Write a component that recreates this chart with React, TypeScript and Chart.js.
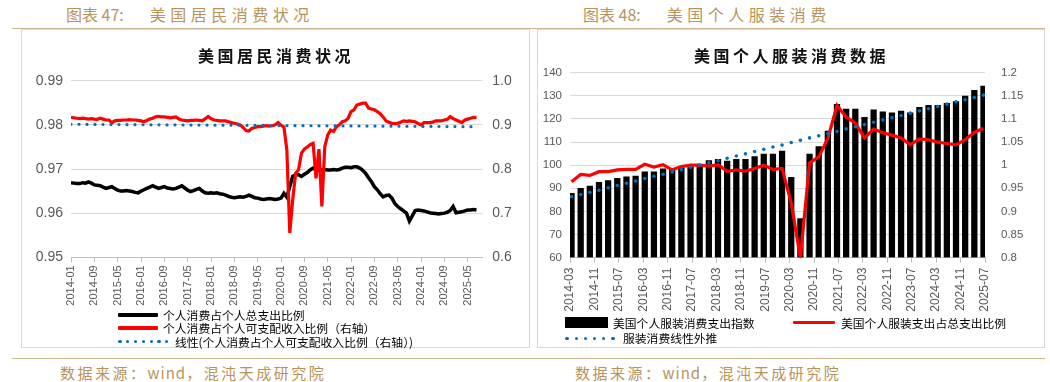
import React, { useEffect, useRef } from 'react';
import { Chart, registerables } from 'chart.js';
Chart.register(...registerables);

// ---------------- Left chart data (monthly, from 2014-01) ----------------
const LEFT_START = '2014-01';
const LEFT_TICK_LABELS = ['2014-01', '2014-09', '2015-05', '2016-01', '2016-09', '2017-05', '2018-01', '2018-09', '2019-05', '2020-01', '2020-09', '2021-05', '2022-01', '2022-09', '2023-05', '2024-01', '2024-09', '2025-05'];

// 个人消费占个人总支出比例 (left axis)
const consumptionToOutlays = [
  0.9669, 0.9668, 0.9667, 0.9667, 0.9669, 0.9668, 0.9671, 0.9668, 0.9664, 0.9663,
  0.9662, 0.9659, 0.9656, 0.9658, 0.9660, 0.9656, 0.9652, 0.9650, 0.9650, 0.9651,
  0.9650, 0.9649, 0.9647, 0.9646, 0.9650, 0.9653, 0.9656, 0.9659, 0.9662, 0.9659,
  0.9656, 0.9658, 0.9660, 0.9657, 0.9656, 0.9655, 0.9656, 0.9659, 0.9662, 0.9657,
  0.9652, 0.9649, 0.9651, 0.9654, 0.9656, 0.9650, 0.9646, 0.9645, 0.9646, 0.9645,
  0.9646, 0.9644, 0.9643, 0.9641, 0.9638, 0.9636, 0.9635, 0.9636, 0.9637, 0.9636,
  0.9638, 0.9641, 0.9638, 0.9635, 0.9634, 0.9632, 0.9631, 0.9632, 0.9633, 0.9632,
  0.9631, 0.9632, 0.9634, 0.9645, 0.9636, 0.9660, 0.9683, 0.9687, 0.9687, 0.9683,
  0.9688, 0.9692, 0.9698, 0.9702, 0.9698, 0.9697, 0.9698, 0.9699, 0.9698, 0.9698,
  0.9699, 0.9698, 0.9699, 0.9702, 0.9704, 0.9704, 0.9703, 0.9705, 0.9705, 0.9702,
  0.9697, 0.9690, 0.9680, 0.9671, 0.9660, 0.9653, 0.9644, 0.9637, 0.9640, 0.9641,
  0.9634, 0.9622, 0.9615, 0.9610, 0.9605, 0.9600, 0.9582, 0.9594, 0.9606, 0.9607,
  0.9606, 0.9605, 0.9603, 0.9601, 0.9600, 0.9599, 0.9598, 0.9599, 0.9600, 0.9602,
  0.9606, 0.9615, 0.9601, 0.9602, 0.9603, 0.9605, 0.9607, 0.9607, 0.9608, 0.9607,
];

// 个人消费占个人可支配收入比例 (right axis)
const consumptionToIncome = [
  0.917, 0.916, 0.915, 0.914, 0.915, 0.914, 0.913, 0.914, 0.913, 0.9125,
  0.915, 0.913, 0.911, 0.911, 0.905, 0.909, 0.910, 0.910, 0.911, 0.911,
  0.912, 0.911, 0.911, 0.910, 0.909, 0.907, 0.910, 0.913, 0.915, 0.918,
  0.919, 0.918, 0.918, 0.917, 0.916, 0.917, 0.918, 0.913, 0.911, 0.910,
  0.909, 0.910, 0.910, 0.911, 0.910, 0.909, 0.914, 0.919, 0.914, 0.911,
  0.910, 0.909, 0.909, 0.909, 0.907, 0.905, 0.9035, 0.902, 0.900, 0.894,
  0.887, 0.886, 0.892, 0.894, 0.896, 0.896, 0.897, 0.898, 0.897, 0.898,
  0.900, 0.905, 0.899, 0.895, 0.843, 0.655, 0.730, 0.790, 0.798, 0.836,
  0.845, 0.850, 0.855, 0.858, 0.779, 0.845, 0.715, 0.851, 0.877, 0.888,
  0.885, 0.896, 0.900, 0.907, 0.909, 0.915, 0.930, 0.934, 0.945, 0.947,
  0.949, 0.949, 0.938, 0.936, 0.934, 0.930, 0.925, 0.918, 0.909, 0.906,
  0.9035, 0.903, 0.9035, 0.906, 0.909, 0.908, 0.909, 0.908, 0.907, 0.903,
  0.900, 0.905, 0.905, 0.905, 0.906, 0.909, 0.909, 0.909, 0.911, 0.9125,
  0.9186, 0.914, 0.911, 0.908, 0.905, 0.911, 0.913, 0.915, 0.917, 0.917,
];

// 线性趋势 (right axis): value at first and last month
const incomeTrendEnds = [0.9012, 0.8958];

// ---------------- Right chart data (quarterly) ----------------
const RIGHT_START = '2014-03';
const RIGHT_TICK_LABELS = ['2014-03', '2014-11', '2015-07', '2016-03', '2016-11', '2017-07', '2018-03', '2018-11', '2019-07', '2020-03', '2020-11', '2021-07', '2022-03', '2022-11', '2023-07', '2024-03', '2024-11', '2025-07'];
const quarters = [
  '2014-03', '2014-06', '2014-09', '2014-12', '2015-03', '2015-06', '2015-09', '2015-12',
  '2016-03', '2016-06', '2016-09', '2016-12', '2017-03', '2017-06', '2017-09', '2017-12',
  '2018-03', '2018-06', '2018-09', '2018-12', '2019-03', '2019-06', '2019-09', '2019-12',
  '2020-03', '2020-06', '2020-09', '2020-12', '2021-03', '2021-06', '2021-09', '2021-12',
  '2022-03', '2022-06', '2022-09', '2022-12', '2023-03', '2023-06', '2023-09', '2023-12',
  '2024-03', '2024-06', '2024-09', '2024-12', '2025-03', '2025-06',
];
// 美国个人服装消费支出指数 (left axis)
const apparelIndex = [
  87.8, 90.0, 91.0, 92.6, 93.3, 94.3, 95.0, 95.3,
  97.1, 97.1, 98.4, 97.9, 98.6, 99.4, 99.8, 102.0,
  102.5, 101.8, 102.5, 102.5, 103.7, 104.8, 104.8, 106.1,
  94.8, 76.9, 104.8, 108.0, 114.8, 126.3, 124.3, 124.3,
  120.7, 123.9, 123.1, 122.7, 123.4, 122.7, 125.0, 125.9,
  125.9, 126.8, 127.5, 129.9, 132.4, 134.2,
];
// 美国个人服装支出占总支出比例 (right axis)
const apparelShare = [
  0.964, 0.980, 0.978, 0.986, 0.986, 0.990, 0.991, 0.991,
  1.002, 0.996, 1.001, 0.990, 0.997, 1.000, 1.000, 0.998,
  1.001, 0.987, 0.990, 0.987, 0.993, 1.000, 0.991, 0.993,
  0.918, 0.800, 1.005, 1.018, 1.058, 1.129, 1.104, 1.091,
  1.059, 1.078, 1.070, 1.065, 1.059, 1.044, 1.057, 1.055,
  1.050, 1.047, 1.044, 1.055, 1.071, 1.080,
];
// 服装消费线性外推 (left axis)
const apparelTrend = [
  86.4, 87.3, 88.3, 89.2, 90.2, 91.2, 92.2, 93.2,
  94.2, 95.2, 96.1, 97.1, 98.1, 99.1, 100.1, 101.0,
  102.0, 103.0, 104.0, 104.9, 105.9, 106.9, 107.9, 108.7,
  109.8, 110.8, 111.8, 112.7, 113.7, 114.6, 115.7, 116.6,
  117.6, 118.6, 119.6, 120.5, 121.5, 122.5, 123.5, 124.4,
  125.4, 126.4, 127.4, 128.3, 129.3, 130.3,
];

// ---------------- styles ----------------
const GOLD = '#b8935a';
const GOLD_LINE = '#cfb48d';
const GRID = '#d9d9d9';
const AXIS = '#bfbfbf';
const TICK_TEXT = '#595959';
const RED = '#ff0000';
const BLUE = '#0070c0';
const CJK = '"Noto Sans CJK SC", "Noto Sans", sans-serif';
const NUM = '"Liberation Sans", Arial, sans-serif';

function monthsBetween(from: string, to: string) {
  const [fy, fm] = from.split('-').map(Number);
  const [ty, tm] = to.split('-').map(Number);
  return (ty - fy) * 12 + (tm - fm);
}

function tickLabel(list: string[], v: number) {
  const k = v / 8;
  if (Math.abs(k - Math.round(k)) > 1e-6) return '';
  return list[Math.round(k)] ?? '';
}

function LeftChart() {
  const ref = useRef<HTMLCanvasElement>(null);
  useEffect(() => {
    const last = consumptionToIncome.length - 1;
    const chart = new Chart(ref.current!, {
      type: 'line',
      data: {
        datasets: [
          {
            label: '线性(个人消费占个人可支配收入比例（右轴）)',
            data: [{ x: 0, y: incomeTrendEnds[0] }, { x: last, y: incomeTrendEnds[1] }],
            yAxisID: 'y2', borderColor: BLUE, borderWidth: 3.2, borderDash: [0, 8],
            borderCapStyle: 'round', pointRadius: 0,
          },
          {
            label: '个人消费占个人可支配收入比例（右轴）',
            data: consumptionToIncome.map((v, i) => ({ x: i, y: v })),
            yAxisID: 'y2', borderColor: RED, borderWidth: 3.2, pointRadius: 0, tension: 0,
          },
          {
            label: '个人消费占个人总支出比例',
            data: consumptionToOutlays.map((v, i) => ({ x: i, y: v })),
            yAxisID: 'y', borderColor: '#000', borderWidth: 3.5, pointRadius: 0, tension: 0,
          },
        ],
      } as any,
      options: {
        responsive: false,
        animation: false,
        layout: { padding: { top: 50.7, left: 0, right: 0, bottom: 0 } },
        plugins: { legend: { display: false }, tooltip: { enabled: false } },
        scales: {
          x: {
            type: 'linear', min: 0, max: 141,
            afterFit: (s: any) => { s.height = 89.7; },
            grid: { drawOnChartArea: false, drawTicks: true, tickLength: 5, color: AXIS },
            border: { display: true, color: AXIS },
            ticks: {
              stepSize: 8, autoSkip: false, includeBounds: false, minRotation: 90, maxRotation: 90,
              padding: 3, color: TICK_TEXT, font: { family: NUM, size: 11 },
              callback: (v: any) => tickLabel(LEFT_TICK_LABELS, Number(v)),
            },
          },
          y: {
            position: 'left', min: 0.95, max: 0.99,
            afterFit: (s: any) => { s.width = 49; },
            grid: { color: GRID, drawTicks: false },
            border: { display: false },
            ticks: {
              stepSize: 0.01, padding: 8, color: TICK_TEXT, font: { family: NUM, size: 14 },
              callback: (v: any) => Number(v).toFixed(2),
            },
          },
          y2: {
            position: 'right', min: 0.6, max: 1.0,
            afterFit: (s: any) => { s.width = 47.7; },
            grid: { drawOnChartArea: false, drawTicks: false },
            border: { display: false },
            ticks: {
              stepSize: 0.1, padding: 10, color: TICK_TEXT, font: { family: NUM, size: 14 },
              callback: (v: any) => Number(v).toFixed(1),
            },
          },
        },
      } as any,
    });
    return () => chart.destroy();
  }, []);
  return <canvas ref={ref} width={508} height={317} style={{ position: 'absolute', left: 22, top: 30, width: 508, height: 317 }} />;
}

function RightChart() {
  const ref = useRef<HTMLCanvasElement>(null);
  useEffect(() => {
    const xOf = (q: string) => monthsBetween(RIGHT_START, q) + 0.5;
    const chart = new Chart(ref.current!, {
      type: 'bar',
      data: {
        datasets: [
          {
            type: 'line', label: '服装消费线性外推',
            data: quarters.map((q, i) => ({ x: xOf(q), y: apparelTrend[i] })),
            yAxisID: 'y', showLine: false, pointRadius: 1.8, pointBorderWidth: 0,
            pointBackgroundColor: BLUE, backgroundColor: BLUE, borderColor: BLUE,
          },
          {
            type: 'line', label: '美国个人服装支出占总支出比例',
            data: quarters.map((q, i) => ({ x: xOf(q), y: apparelShare[i] })),
            yAxisID: 'y2', borderColor: RED, borderWidth: 3.2, pointRadius: 0, tension: 0,
          },
          {
            type: 'bar', label: '美国个人服装消费支出指数',
            data: quarters.map((q, i) => ({ x: xOf(q), y: apparelIndex[i] })),
            yAxisID: 'y', backgroundColor: '#000', barThickness: 5.6, base: 60, grouped: false,
          },
        ],
      } as any,
      options: {
        responsive: false,
        animation: false,
        layout: { padding: { top: 42.7, left: 0, right: 0, bottom: 0 } },
        plugins: { legend: { display: false }, tooltip: { enabled: false } },
        scales: {
          x: {
            type: 'linear', min: 0, max: 136, offset: false,
            afterFit: (s: any) => { s.height = 89.3; },
            grid: { drawOnChartArea: false, drawTicks: true, tickLength: 5, color: AXIS, offset: false },
            border: { display: true, color: AXIS },
            ticks: {
              stepSize: 8, autoSkip: false, includeBounds: false, minRotation: 90, maxRotation: 90,
              padding: 5, color: TICK_TEXT, font: { family: NUM, size: 12 },
              callback: (v: any) => tickLabel(RIGHT_TICK_LABELS, Number(v)),
            },
          },
          y: {
            position: 'left', min: 60, max: 140,
            afterFit: (s: any) => { s.width = 32; },
            grid: { color: GRID, drawTicks: false },
            border: { display: false },
            ticks: {
              stepSize: 10, padding: 8, color: TICK_TEXT, font: { family: NUM, size: 11.5 },
              callback: (v: any) => String(Math.round(Number(v))),
            },
          },
          y2: {
            position: 'right', min: 0.8, max: 1.2,
            afterFit: (s: any) => { s.width = 60; },
            grid: { drawOnChartArea: false, drawTicks: false },
            border: { display: false },
            ticks: {
              stepSize: 0.05, padding: 16, color: TICK_TEXT, font: { family: NUM, size: 11.5 },
              callback: (v: any) => String(parseFloat(Number(v).toFixed(2))),
            },
          },
        },
      } as any,
    });
    return () => chart.destroy();
  }, []);
  return <canvas ref={ref} width={507} height={317} style={{ position: 'absolute', left: 538, top: 30, width: 507, height: 317 }} />;
}

const abs = (s: React.CSSProperties): React.CSSProperties => ({ position: 'absolute', whiteSpace: 'nowrap', ...s });

function LineSwatch({ left, top, width, color, thick }: { left: number; top: number; width: number; color: string; thick: number }) {
  return <div style={abs({ left, top: top - thick / 2, width, height: thick, background: color, borderRadius: 1 })} />;
}

function DotSwatch({ left, top, count, gap }: { left: number; top: number; count: number; gap: number }) {
  return (
    <>
      {Array.from({ length: count }).map((_, i) => (
        <div key={i} style={abs({ left: left + i * gap - 1.6, top: top - 1.6, width: 3.2, height: 3.2, borderRadius: '50%', background: BLUE })} />
      ))}
    </>
  );
}

const legendText: React.CSSProperties = { fontSize: 11.8, lineHeight: '14px', color: '#000', fontFamily: CJK };
const footerText: React.CSSProperties = { top: 364, lineHeight: '18px', fontSize: 15, letterSpacing: 2.5, color: GOLD };

export default function App() {
  return (
    <div style={{ position: 'fixed', left: 0, top: 0, width: 1050, height: 382, background: '#fff', overflow: 'hidden', fontFamily: CJK }}>
      {/* headers */}
      <div style={abs({ left: 66, top: 4, lineHeight: '20px', fontSize: 16, color: GOLD })}>
        图表 47:<span style={{ marginLeft: 26, letterSpacing: 4.5 }}>美国居民消费状况</span>
      </div>
      <div style={abs({ left: 583, top: 4, lineHeight: '20px', fontSize: 16, color: GOLD })}>
        图表 48:<span style={{ marginLeft: 26, letterSpacing: 4.5 }}>美国个人服装消费</span>
      </div>
      <div style={abs({ left: 12, top: 28, width: 1033, height: 1, background: GOLD_LINE })} />

      {/* chart boxes */}
      <div style={abs({ left: 21, top: 29, width: 509, height: 319, border: '1px solid #d9d9d9', boxSizing: 'border-box' })} />
      <div style={abs({ left: 537, top: 29, width: 508, height: 319, border: '1px solid #d9d9d9', boxSizing: 'border-box' })} />

      <LeftChart />
      <RightChart />

      {/* chart titles */}
      <div style={abs({ left: 22, top: 45, width: 508, textAlign: 'center', fontSize: 16, lineHeight: '20px', fontWeight: 700, letterSpacing: 3.5, color: '#111' })}>美国居民消费状况</div>
      <div style={abs({ left: 538, top: 45, width: 507, textAlign: 'center', fontSize: 16, lineHeight: '20px', fontWeight: 700, letterSpacing: 3.5, color: '#111' })}>美国个人服装消费数据</div>

      {/* left legend */}
      <LineSwatch left={118} top={315} width={40} color="#000" thick={4} />
      <div style={abs({ left: 163, top: 308, ...legendText })}>个人消费占个人总支出比例</div>
      <LineSwatch left={118} top={328.3} width={40} color={RED} thick={4} />
      <div style={abs({ left: 163, top: 321.3, ...legendText })}>个人消费占个人可支配收入比例（右轴）</div>
      <DotSwatch left={120} top={341.7} count={7} gap={7.8} />
      <div style={abs({ left: 175, top: 334.7, ...legendText })}>线性(个人消费占个人可支配收入比例（右轴）)</div>

      {/* right legend */}
      <div style={abs({ left: 565, top: 317, width: 43, height: 11, background: '#000' })} />
      <div style={abs({ left: 613, top: 315.5, ...legendText })}>美国个人服装消费支出指数</div>
      <LineSwatch left={793} top={322.3} width={42} color={RED} thick={3.5} />
      <div style={abs({ left: 841, top: 315.5, ...legendText })}>美国个人服装支出占总支出比例</div>
      <DotSwatch left={567} top={338.3} count={6} gap={9.2} />
      <div style={abs({ left: 623, top: 331.3, ...legendText })}>服装消费线性外推</div>

      {/* footers */}
      <div style={abs({ left: 12, top: 358, width: 1033, height: 1, background: GOLD_LINE })} />
      <div style={abs({ left: 60, ...footerText })}>数据来源：<span style={{ letterSpacing: 1 }}>wind</span>，混沌天成研究院</div>
      <div style={abs({ left: 575, ...footerText })}>数据来源：<span style={{ letterSpacing: 1 }}>wind</span>，混沌天成研究院</div>
    </div>
  );
}
